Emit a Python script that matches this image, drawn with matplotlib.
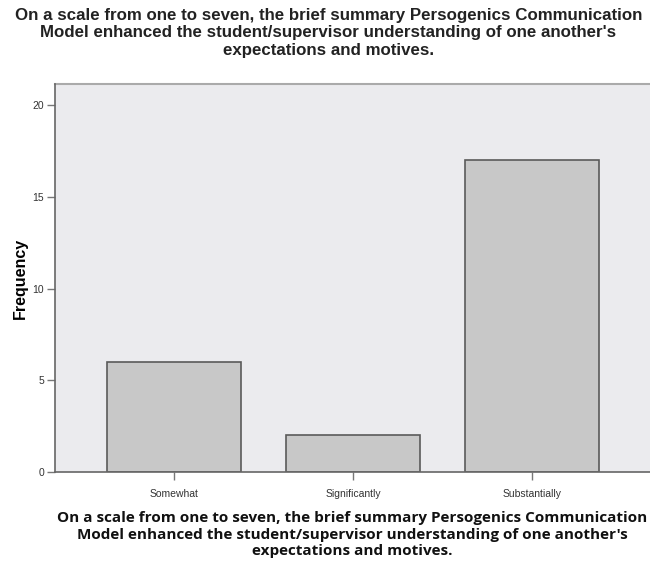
import matplotlib.pyplot as plt

categories = ["Somewhat", "Significantly", "Substantially"]
frequency = [6, 2, 17]
y_ticks = [0, 5, 10, 15, 20]
question = ("On a scale from one to seven, the brief summary Persogenics Communication\n"
            "Model enhanced the student/supervisor understanding of one another's\n"
            "expectations and motives.")

fig = plt.figure(figsize=(6.5, 5.64), dpi=100)
ax = fig.add_axes([0.0846, 0.163, 0.9154, 0.688])
ax.set_facecolor("#ebebee")

x = list(range(len(categories)))
ax.bar(x, frequency, width=0.75, color="#c8c8c8", edgecolor="#5a5a5a", linewidth=1.2, zorder=2)

ax.set_xlim(-0.665, 2.66)
ax.set_ylim(0, 21.15)
ax.set_xticks(x)
ax.set_xticklabels(categories, fontsize=7.5, color="#333333", family="Liberation Sans")
ax.set_yticks(y_ticks)
ax.set_yticklabels([str(v) for v in y_ticks], fontsize=7.5, color="#333333", family="Liberation Sans")
ax.tick_params(axis="x", length=6, width=1, color="#777777", pad=6)
ax.tick_params(axis="y", length=6, width=1, color="#777777", pad=2)

for side in ["top", "right"]:
    ax.spines[side].set_visible(False)
for side in ["left", "bottom"]:
    ax.spines[side].set_color("#666666")
    ax.spines[side].set_linewidth(1.2)
# thin top border like the original frame
ax.axhline(21.15, color="#aaaaaa", linewidth=1.5, clip_on=False)

ax.set_ylabel("Frequency", fontsize=11.5, fontweight="bold", family="Liberation Sans", labelpad=3)

fig.text(0.505, 0.986, question, ha="center", va="top", fontsize=12.2, fontweight="bold",
         family="Liberation Sans", linespacing=1.2, color="#222222")
fig.text(0.5415, 0.094, question, ha="center", va="top", fontsize=11, fontweight="bold",
         family="Open Sans", linespacing=1.24, color="#111111")

fig.savefig("out.png", dpi=100)
